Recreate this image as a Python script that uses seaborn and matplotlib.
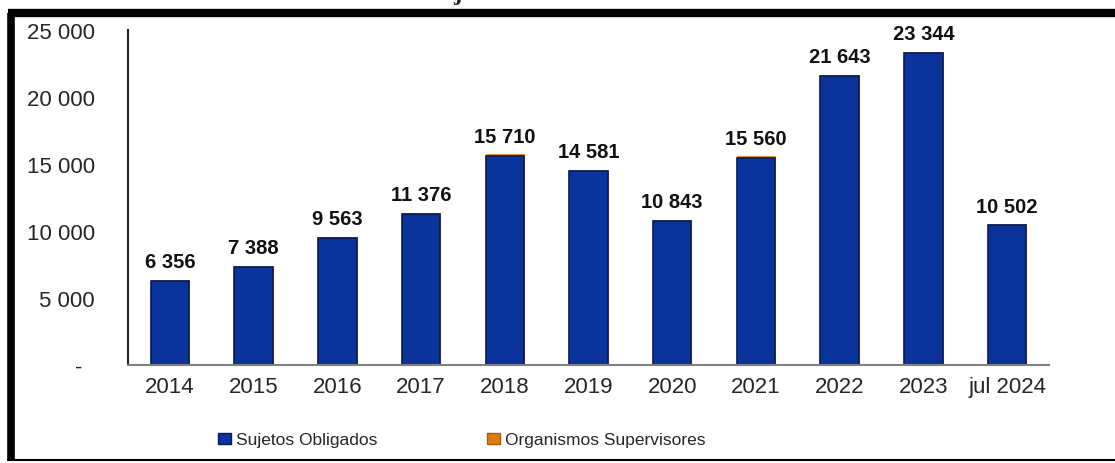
import matplotlib
matplotlib.use("Agg")
import matplotlib.pyplot as plt
from matplotlib.lines import Line2D
from matplotlib.patches import Patch
import numpy as np
import pandas as pd
import seaborn as sns

# data
years = ['2014', '2015', '2016', '2017', '2018', '2019', '2020', '2021', '2022', '2023', 'jul 2024']
totals = [6356, 7388, 9563, 11376, 15710, 14581, 10843, 15560, 21643, 23344, 10502]
organismos = [80, 80, 80, 80, 80, 80, 80, 80, 80, 80, 80]
sujetos = [t - o for t, o in zip(totals, organismos)]

df = pd.DataFrame({'year': years, 'total': totals, 'sujetos': sujetos})

sns.set_style("white")
plt.rcParams['font.family'] = ['Liberation Sans', 'DejaVu Sans']

blue = '#0a339c'
orange = '#e07b10'

fig = plt.figure(figsize=(11.15, 4.64), dpi=100)
ax = fig.add_axes([128 / 1115, 98 / 464, (1049 - 128) / 1115, (366 - 31) / 464])

# orange drawn full height, blue over it -> orange shows as the thin top slice
sns.barplot(data=df, x='year', y='total', color=orange, saturation=1, width=0.46,
            edgecolor=orange, linewidth=0.5, ax=ax)
sns.barplot(data=df, x='year', y='sujetos', color=blue, saturation=1, width=0.46,
            edgecolor='#061a5c', linewidth=1.2, ax=ax)

for i, t in enumerate(totals):
    lab = f"{t:,}".replace(',', ' ')
    ax.text(i, t + 650, lab, ha='center', va='bottom', fontsize=14.5,
            fontweight='bold', color='#111111')

ax.set_ylim(0, 25000)
ax.set_xlim(-0.5, len(years) - 0.5)
yt = [0, 5000, 10000, 15000, 20000, 25000]
ax.set_yticks(yt)
ax.set_yticklabels(['-  '] + [f"{v:,}".replace(',', ' ') for v in yt[1:]], fontsize=16)
ax.tick_params(axis='y', length=0, pad=24)
ax.tick_params(axis='x', length=0, pad=8, labelsize=16)
ax.set_xlabel('')
ax.set_ylabel('')

sns.despine(ax=ax, top=True, right=True)
ax.spines['left'].set_color('#222222')
ax.spines['left'].set_linewidth(1.5)
ax.spines['bottom'].set_color('#808080')
ax.spines['bottom'].set_linewidth(1.5)

# legend, two entries placed separately
leg_kw = dict(loc='center left', frameon=False, fontsize=12.5, handlelength=0.75,
              handleheight=0.6, handletextpad=0.3, borderpad=0, borderaxespad=0)
fig.legend(handles=[Patch(facecolor=blue, edgecolor='#061a5c', label='Sujetos Obligados')],
           bbox_to_anchor=(218 / 1115, 1 - 441 / 464), **leg_kw)
fig.legend(handles=[Patch(facecolor=orange, edgecolor='#b05a00', label='Organismos Supervisores')],
           bbox_to_anchor=(487 / 1115, 1 - 441 / 464), **leg_kw)

# outer frame (thick left/top, thin bottom)
fig.add_artist(Line2D([10.5 / 1115, 10.5 / 1115], [1 - 14 / 464, 1 - 462 / 464],
                      transform=fig.transFigure, color='black', linewidth=5.5,
                      solid_capstyle='butt'))
fig.add_artist(Line2D([7.5 / 1115, 1], [1 - 14 / 464, 1 - 14 / 464],
                      transform=fig.transFigure, color='black', linewidth=6,
                      solid_capstyle='butt'))
fig.add_artist(Line2D([7.5 / 1115, 1], [1 - 461 / 464, 1 - 461 / 464],
                      transform=fig.transFigure, color='black', linewidth=1.5))

# chart title, cut off at the top of the image in the reference
fig.text(453 / 1115, 1.0, 'julio de 2024', ha='left', va='baseline',
         fontsize=18, fontweight='bold', family=['Liberation Serif', 'DejaVu Serif'])

fig.savefig('out.png', dpi=100)
